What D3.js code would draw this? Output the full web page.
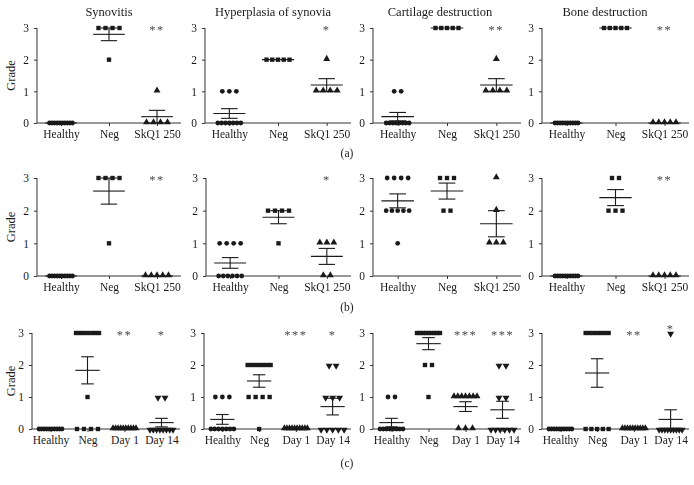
<!DOCTYPE html>
<html><head><meta charset="utf-8">
<script src="https://cdn.jsdelivr.net/npm/d3@7"></script>
<style>body{margin:0;background:#fff}svg{display:block}.stars{opacity:0.98;will-change:transform}</style></head>
<body><svg id="c" width="694" height="485"></svg>
<script>
// ---------- data ----------
const titles = ["Synovitis", "Hyperplasia of synovia", "Cartilage destruction", "Bone destruction"];
const groupsAB = ["Healthy", "Neg", "SkQ1 250"];
const groupsC = ["Healthy", "Neg", "Day 1", "Day 14"];
const yTicks = [0, 1, 2, 3];
const rowTags = ["(a)", "(b)", "(c)"];

// row (a)
const a_synovitis   = [[0,0,0,0,0,0,0,0,0,0], [3,3,3,3,2], [1,0,0,0,0]];
const a_hyperplasia = [[1,1,1,0,0,0,0,0,0,0], [2,2,2,2,2], [2,1,1,1,1]];
const a_cartilage   = [[1,1,0,0,0,0,0,0,0,0], [3,3,3,3,3], [2,1,1,1,1]];
const a_bone        = [[0,0,0,0,0,0,0,0,0,0], [3,3,3,3,3], [0,0,0,0,0]];
const starsA = [["","","**"], ["","","*"], ["","","**"], ["","","**"]];

// row (b)
const b_synovitis   = [[0,0,0,0,0,0,0,0,0,0], [3,3,3,3,1], [0,0,0,0,0]];
const b_hyperplasia = [[1,1,1,1,0,0,0,0,0,0], [2,2,2,2,1], [1,1,1,0,0]];
const b_cartilage   = [[3,3,3,3,2,2,2,2,2,1], [3,3,3,2,2], [3,2,1,1,1]];
const b_bone        = [[0,0,0,0,0,0,0,0,0,0], [3,3,2,2,2], [0,0,0,0,0]];
const starsB = [["","","**"], ["","","*"], ["","",""], ["","","**"]];

// row (c)
const c_synovitis   = [[0,0,0,0,0,0,0,0,0,0], [3,3,3,3,3,3,3,1,0,0,0,0], [0,0,0,0,0,0,0,0,0,0], [1,1,0,0,0,0,0,0,0,0]];
const c_hyperplasia = [[1,1,1,0,0,0,0,0,0,0], [2,2,2,2,2,2,2,1,1,1,1,0], [0,0,0,0,0,0,0,0,0,0], [2,2,1,1,1,0,0,0,0,0]];
const c_cartilage   = [[1,1,0,0,0,0,0,0,0,0], [3,3,3,3,3,3,3,3,3,2,2,1], [1,1,1,1,1,1,1,0,0,0], [2,2,1,1,0,0,0,0,0,0]];
const c_bone        = [[0,0,0,0,0,0,0,0,0,0], [3,3,3,3,3,3,3,0,0,0,0,0], [0,0,0,0,0,0,0,0,0,0], [3,0,0,0,0,0,0,0,0,0]];
const starsC = [["","","**","*"], ["","","***","*"], ["","","***","***"], ["","","**","*"]];

// ---------- layout ----------
const FONT = "'Liberation Serif','Times New Roman',serif";
const rows = [
  {groups: groupsAB, panels: [a_synovitis, a_hyperplasia, a_cartilage, a_bone], stars: starsA,
   y3: 28, y0: 123, axX: [37, 205, 373, 542], endX: [181, 351, 521, 689], tagY: 157, titles: true},
  {groups: groupsAB, panels: [b_synovitis, b_hyperplasia, b_cartilage, b_bone], stars: starsB,
   y3: 178, y0: 276, axX: [37, 206, 373, 542], endX: [181, 351, 521, 689], tagY: 311, titles: false},
  {groups: groupsC, panels: [c_synovitis, c_hyperplasia, c_cartilage, c_bone], stars: starsC,
   y3: 333, y0: 429, axX: [32, 204, 373, 542], endX: [180, 351, 521, 689], tagY: 467, titles: false}
];
const titleX = [109, 273, 440, 605];
const symbolsFor = g => g === "Healthy" ? d3.symbolCircle : g === "Neg" ? d3.symbolSquare :
                        g === "Day 14" ? "down" : d3.symbolTriangle;

const svg = d3.select("#c");
const ink = "#1a1a1a";
const starLayer = svg.append("g").attr("class", "stars");

rows.forEach((row, ri) => {
  const y = d3.scaleLinear().domain([0, 3]).range([row.y0, row.y3]);
  svg.append("text").attr("transform", `translate(15,${(row.y0 + row.y3) / 2}) rotate(-90)`)
     .attr("text-anchor", "middle").attr("font-family", FONT).attr("font-size", 12.5).attr("fill", ink)
     .text("Grade");
  svg.append("text").attr("x", 347).attr("y", row.tagY).attr("text-anchor", "middle")
     .attr("font-family", FONT).attr("font-size", 11.5).attr("fill", ink).text(rowTags[ri]);

  row.panels.forEach((panel, pi) => {
    const x = d3.scalePoint().domain(row.groups).range([row.axX[pi], row.endX[pi]]).padding(0.5);
    const step = x.step();
    const g = svg.append("g");
    if (row.titles) {
      g.append("text").attr("x", titleX[pi]).attr("y", 16).attr("text-anchor", "middle")
       .attr("font-family", FONT).attr("font-size", 12.5).attr("fill", ink).text(titles[pi]);
    }
    const ya = g.append("g").attr("transform", `translate(${row.axX[pi]},0)`)
      .call(d3.axisLeft(y).tickValues(yTicks).tickFormat(d3.format("d")).tickSize(3).tickPadding(5));
    const xa = g.append("g").attr("transform", `translate(0,${row.y0})`)
      .call(d3.axisBottom(x).tickSize(3).tickPadding(4));
    [ya, xa].forEach(a => {
      a.select(".domain").attr("stroke", "#333");
      a.selectAll(".tick line").attr("stroke", "#333");
      a.selectAll("text").attr("font-family", FONT).attr("fill", ink);
    });
    ya.selectAll("text").attr("font-size", 11.5);
    xa.selectAll("text").attr("font-size", 11.5);
    ya.select(".domain").attr("d", `M0,${row.y0}V${row.y3}`);
    xa.select(".domain").attr("d", `M${row.axX[pi]},0H${row.endX[pi]}`);

    row.groups.forEach((grp, gi) => {
      const vals = panel[gi];
      const cx = x(grp);
      const counts = d3.group(vals, v => v);
      const pts = [];
      counts.forEach((arr, v) => {
        const k = arr.length;
        const s = k > 1 ? Math.min(7, 23 / (k - 1)) : 0;
        arr.forEach((_, i) => pts.push({x: cx + (i - (k - 1) / 2) * s, v}));
      });
      const sym = symbolsFor(grp);
      pts.forEach(p => {
        if (sym === "down") {
          g.append("path").attr("d", d3.symbol(d3.symbolTriangle, 21)())
           .attr("transform", `translate(${p.x},${y(p.v) + 0.8}) rotate(180)`).attr("fill", ink);
        } else {
          const size = sym === d3.symbolCircle ? 18 : sym === d3.symbolSquare ? 19 : 21;
          const dy = sym === d3.symbolTriangle ? -0.8 : 0;
          g.append("path").attr("d", d3.symbol(sym, size)())
           .attr("transform", `translate(${p.x},${y(p.v) + dy})`).attr("fill", ink);
        }
      });
      const m = d3.mean(vals);
      const sem = d3.deviation(vals) / Math.sqrt(vals.length);
      const hw = step * 0.33, cw = step * 0.17;
      const lg = g.append("g").attr("stroke", ink).attr("stroke-width", 1.1).attr("fill", "none");
      lg.append("line").attr("x1", cx - hw).attr("x2", cx + hw).attr("y1", y(m)).attr("y2", y(m));
      if (sem > 0) {
        lg.append("line").attr("x1", cx).attr("x2", cx).attr("y1", y(m - sem)).attr("y2", y(m + sem));
        [m - sem, m + sem].forEach(v => lg.append("line").attr("x1", cx - cw).attr("x2", cx + cw)
          .attr("y1", y(v)).attr("y2", y(v)));
      }
      const st = row.stars[pi][gi];
      if (st) {
        const lift = d3.max(vals) === 3 ? 7 : 1;
        starLayer.append("text").attr("x", cx).attr("y", y(3) - lift + 7)
         .attr("text-anchor", "middle")
         .attr("font-family", FONT).attr("font-size", 12.5).attr("letter-spacing", 1.5)
         .attr("fill", "#444").text(st);
      }
    });
  });
});
</script></body></html>
